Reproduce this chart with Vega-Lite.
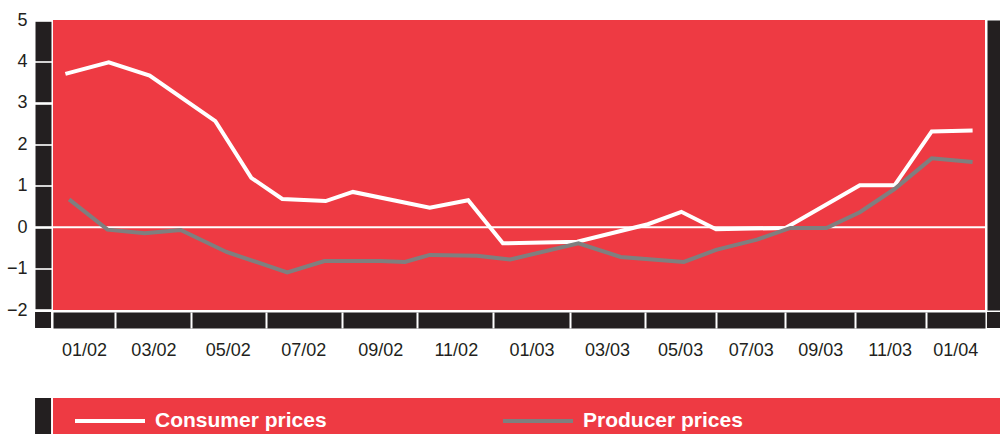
{
  "$schema": "https://vega.github.io/schema/vega-lite/v6.json",
  "width": 932,
  "height": 290,
  "autosize": {"type": "none"},
  "padding": {"left": 53, "top": 20, "right": 15, "bottom": 124},
  "config": {
    "view": {"fill": "#ee3a43", "stroke": null},
    "font": "Liberation Sans"
  },
  "data": {
    "values": [
      {"date": "2001-12-30", "series": "Consumer prices", "value": 3.70},
      {"date": "2002-02-03", "series": "Consumer prices", "value": 3.98},
      {"date": "2002-03-08", "series": "Consumer prices", "value": 3.66},
      {"date": "2002-04-30", "series": "Consumer prices", "value": 2.56},
      {"date": "2002-05-29", "series": "Consumer prices", "value": 1.19},
      {"date": "2002-06-23", "series": "Consumer prices", "value": 0.68},
      {"date": "2002-07-28", "series": "Consumer prices", "value": 0.63},
      {"date": "2002-08-19", "series": "Consumer prices", "value": 0.85},
      {"date": "2002-10-20", "series": "Consumer prices", "value": 0.47},
      {"date": "2002-11-20", "series": "Consumer prices", "value": 0.65},
      {"date": "2002-12-18", "series": "Consumer prices", "value": -0.39},
      {"date": "2003-02-16", "series": "Consumer prices", "value": -0.35},
      {"date": "2003-04-14", "series": "Consumer prices", "value": 0.07},
      {"date": "2003-05-11", "series": "Consumer prices", "value": 0.37},
      {"date": "2003-06-08", "series": "Consumer prices", "value": -0.05},
      {"date": "2003-08-03", "series": "Consumer prices", "value": -0.02},
      {"date": "2003-10-02", "series": "Consumer prices", "value": 1.01},
      {"date": "2003-10-30", "series": "Consumer prices", "value": 1.01},
      {"date": "2003-11-29", "series": "Consumer prices", "value": 2.31},
      {"date": "2004-01-01", "series": "Consumer prices", "value": 2.33},
      {"date": "2002-01-02", "series": "Producer prices", "value": 0.67},
      {"date": "2002-02-02", "series": "Producer prices", "value": -0.06},
      {"date": "2002-03-04", "series": "Producer prices", "value": -0.15},
      {"date": "2002-04-02", "series": "Producer prices", "value": -0.07},
      {"date": "2002-05-09", "series": "Producer prices", "value": -0.60},
      {"date": "2002-06-27", "series": "Producer prices", "value": -1.09},
      {"date": "2002-07-27", "series": "Producer prices", "value": -0.82},
      {"date": "2002-09-10", "series": "Producer prices", "value": -0.82},
      {"date": "2002-09-30", "series": "Producer prices", "value": -0.84},
      {"date": "2002-10-20", "series": "Producer prices", "value": -0.67},
      {"date": "2002-11-27", "series": "Producer prices", "value": -0.69},
      {"date": "2002-12-24", "series": "Producer prices", "value": -0.78},
      {"date": "2003-02-17", "series": "Producer prices", "value": -0.39},
      {"date": "2003-03-23", "series": "Producer prices", "value": -0.72},
      {"date": "2003-05-13", "series": "Producer prices", "value": -0.84},
      {"date": "2003-06-08", "series": "Producer prices", "value": -0.55},
      {"date": "2003-07-11", "series": "Producer prices", "value": -0.30},
      {"date": "2003-08-07", "series": "Producer prices", "value": -0.02},
      {"date": "2003-09-05", "series": "Producer prices", "value": -0.02},
      {"date": "2003-10-02", "series": "Producer prices", "value": 0.36},
      {"date": "2003-10-30", "series": "Producer prices", "value": 0.92},
      {"date": "2003-11-29", "series": "Producer prices", "value": 1.66},
      {"date": "2004-01-01", "series": "Producer prices", "value": 1.57}
    ]
  },
  "resolve": {"axis": {"x": "independent", "y": "independent"}},
  "layer": [
    {
      "data": {"values": [{}]},
      "mark": {"type": "rect", "color": "#231f20"},
      "encoding": {
        "x": {
          "datum": {"year": 2001, "month": 12, "date": 5, "hours": 12, "utc": true},
          "type": "temporal",
          "scale": {"type": "utc", "domain": [{"year": 2001, "month": 12, "date": 20, "utc": true}, {"year": 2004, "month": 1, "date": 11, "utc": true}]},
          "axis": {
            "orient": "bottom", "offset": 10, "zindex": 1, "title": null,
            "domain": true, "domainColor": "#231f20", "domainWidth": 16, "domainCap": "butt",
            "ticks": false, "tickSize": 0, "grid": false, "labels": true,
            "values": [
              {"year": 2002, "month": 1, "date": 14, "utc": true},
              {"year": 2002, "month": 3, "date": 11, "utc": true},
              {"year": 2002, "month": 5, "date": 10, "utc": true},
              {"year": 2002, "month": 7, "date": 10, "utc": true},
              {"year": 2002, "month": 9, "date": 10, "utc": true},
              {"year": 2002, "month": 11, "date": 10, "utc": true},
              {"year": 2003, "month": 1, "date": 10, "utc": true},
              {"year": 2003, "month": 3, "date": 12, "utc": true},
              {"year": 2003, "month": 5, "date": 10, "utc": true},
              {"year": 2003, "month": 7, "date": 6, "utc": true},
              {"year": 2003, "month": 8, "date": 31, "utc": true},
              {"year": 2003, "month": 10, "date": 26, "utc": true},
              {"year": 2003, "month": 12, "date": 18, "utc": true}
            ],
            "labelExpr": "utcFormat(+datum.value + 1382400000, '%m/%y')",
            "labelFont": "Liberation Sans", "labelFontSize": 18, "labelColor": "#231f20",
            "labelPadding": 21, "labelFlush": false, "labelOverlap": false, "labelBound": false
          }
        },
        "x2": {"datum": {"year": 2001, "month": 12, "date": 18, "hours": 10, "utc": true}},
        "y": {
          "datum": -2.048,
          "type": "quantitative",
          "scale": {"domain": [-2, 5], "nice": false, "zero": false},
          "axis": {
            "orient": "right", "offset": 9, "zindex": 1, "title": null,
            "domain": true, "domainColor": "#231f20", "domainWidth": 14, "domainCap": "butt",
            "ticks": false, "labels": false, "grid": false
          }
        },
        "y2": {"datum": -2.434}
      }
    },
    {
      "data": {"values": [{}]},
      "mark": {"type": "rect", "color": "#231f20"},
      "encoding": {
        "x": {"datum": {"year": 2004, "month": 1, "date": 12, "hours": 14, "utc": true}, "type": "temporal", "axis": null},
        "x2": {"datum": {"year": 2004, "month": 1, "date": 25, "utc": true}},
        "y": {"datum": -2.048, "type": "quantitative", "axis": null},
        "y2": {"datum": -2.434}
      }
    },
    {
      "data": {"values": [{}]},
      "mark": {"type": "rect", "color": "#231f20"},
      "encoding": {
        "x": {"datum": {"year": 2001, "month": 12, "date": 5, "hours": 12, "utc": true}, "type": "temporal", "axis": null},
        "x2": {"datum": {"year": 2001, "month": 12, "date": 18, "hours": 10, "utc": true}},
        "y": {"datum": -4.124, "type": "quantitative", "axis": null},
        "y2": {"datum": -5.3}
      }
    },
    {
      "data": {"values": [{}]},
      "mark": {"type": "rect", "color": "#ee3a43"},
      "encoding": {
        "x": {"datum": {"year": 2001, "month": 12, "date": 20, "utc": true}, "type": "temporal", "axis": null},
        "x2": {"datum": {"year": 2004, "month": 1, "date": 25, "utc": true}},
        "y": {"datum": -4.124, "type": "quantitative", "axis": null},
        "y2": {"datum": -5.3}
      }
    },
    {
      "data": {"values": [{}]},
      "mark": {"type": "rule", "color": "#ffffff", "strokeWidth": 2},
      "encoding": {
        "y": {
          "datum": 0,
          "type": "quantitative",
          "axis": {
            "orient": "left", "offset": 0, "zindex": 1, "title": null,
            "domain": false, "ticks": false, "tickSize": 0, "grid": false,
            "values": [-2, -1, 0, 1, 2, 3, 4, 5],
            "labelFont": "Liberation Sans", "labelFontSize": 18, "labelColor": "#231f20",
            "labelPadding": 26, "labelFlush": false, "labelOverlap": false, "labelBound": false
          }
        }
      }
    },
    {
      "mark": {"type": "line", "strokeWidth": 4},
      "encoding": {
        "x": {
          "field": "date",
          "type": "temporal",
          "axis": {
            "orient": "bottom", "offset": 2, "zindex": 2, "title": null,
            "domain": false, "labels": false, "grid": false,
            "ticks": true, "tickColor": "#ffffff", "tickWidth": 2, "tickSize": 16,
            "values": [
              {"year": 2002, "month": 2, "date": 8, "utc": true},
              {"year": 2002, "month": 4, "date": 10, "utc": true},
              {"year": 2002, "month": 6, "date": 10, "utc": true},
              {"year": 2002, "month": 8, "date": 10, "utc": true},
              {"year": 2002, "month": 10, "date": 10, "utc": true},
              {"year": 2002, "month": 12, "date": 10, "utc": true},
              {"year": 2003, "month": 2, "date": 10, "utc": true},
              {"year": 2003, "month": 4, "date": 12, "utc": true},
              {"year": 2003, "month": 6, "date": 8, "utc": true},
              {"year": 2003, "month": 8, "date": 3, "utc": true},
              {"year": 2003, "month": 9, "date": 28, "utc": true},
              {"year": 2003, "month": 11, "date": 24, "utc": true}
            ]
          }
        },
        "y": {
          "field": "value",
          "type": "quantitative",
          "axis": {
            "orient": "left", "offset": 2, "zindex": 1, "title": null,
            "domain": false, "labels": false, "grid": false,
            "ticks": true, "tickColor": "#231f20", "tickWidth": 39.4, "tickSize": 16,
            "values": [-1.5, -0.5, 0.5, 1.5, 2.5, 3.5, 4.5]
          }
        },
        "color": {
          "field": "series",
          "type": "nominal",
          "scale": {"domain": ["Consumer prices", "Producer prices"], "range": ["#ffffff", "#7f7f7f"]},
          "legend": {
            "orient": "none", "legendX": 20, "legendY": 364, "direction": "horizontal",
            "title": null, "padding": 0,
            "symbolType": "stroke", "symbolSize": 4900, "symbolStrokeWidth": 4,
            "labelFont": "Liberation Sans", "labelFontSize": 21, "labelFontWeight": "bold",
            "labelColor": "#ffffff", "labelOffset": 8, "labelLimit": 400,
            "columnPadding": 168
          }
        }
      }
    }
  ]
}
